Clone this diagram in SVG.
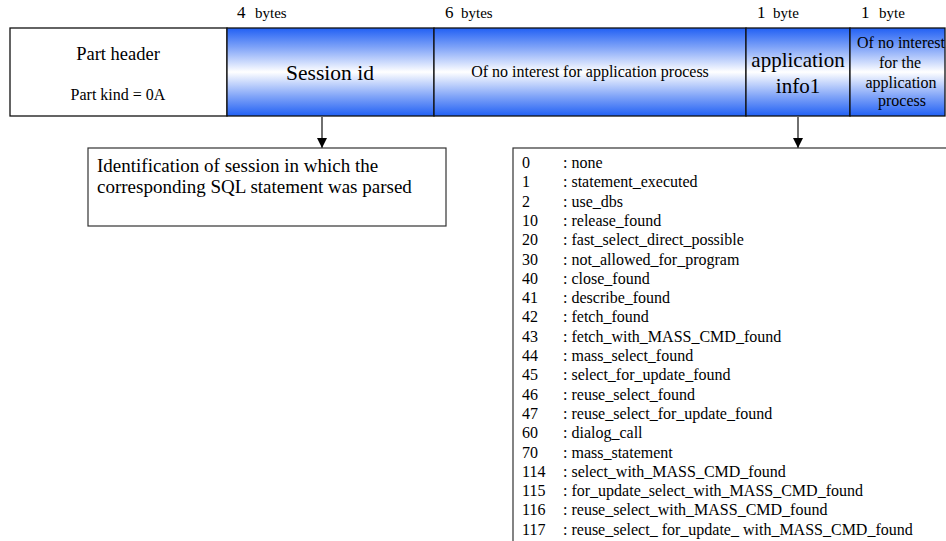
<svg xmlns="http://www.w3.org/2000/svg" width="946" height="541" viewBox="0 0 946 541" font-family="'Liberation Serif', 'DejaVu Serif', serif">
  <defs>
    <linearGradient id="band" x1="0" y1="0" x2="0" y2="1">
      <stop offset="0" stop-color="#2160f4"/>
      <stop offset="0.22" stop-color="#7fa3f8"/>
      <stop offset="0.5" stop-color="#ffffff"/>
      <stop offset="0.78" stop-color="#7fa3f8"/>
      <stop offset="1" stop-color="#2160f4"/>
    </linearGradient>
    <marker id="arrow" viewBox="0 0 10 10" refX="10" refY="5" markerWidth="10" markerHeight="10" markerUnits="userSpaceOnUse" orient="auto">
      <path d="M0,0 L10,5 L0,10 z" fill="#000"/>
    </marker>
  </defs>
  <style>
    text { fill: #000; }
    .cell { stroke: #111; stroke-width: 1.3; }
    .plain { fill: #fff; }
    .blue { fill: url(#band); }
    .sz16 { font-size: 16px; }
    .mid { text-anchor: middle; }
    .num { font-size: 17px; }
    .unit { font-size: 15px; }
    .conn { stroke: #222; stroke-width: 1.3; fill: none; marker-end: url(#arrow); }
    .note { fill: #fff; stroke: #333; stroke-width: 1.2; }
  </style>
  <rect width="946" height="541" fill="#fff"/>

  <!-- byte-size labels above the fields -->
  <g id="sizes">
    <text class="num" x="237" y="18">4</text><text class="unit" x="255" y="18">bytes</text>
    <text class="num" x="445" y="18">6</text><text class="unit" x="461" y="18">bytes</text>
    <text class="num" x="757" y="18">1</text><text class="unit" x="773" y="18">byte</text>
    <text class="num" x="861" y="18">1</text><text class="unit" x="879" y="18">byte</text>
  </g>

  <!-- record fields -->
  <g id="part-header">
    <rect class="cell plain" x="10" y="28" width="217" height="88"/>
    <text class="mid" font-size="18.5" x="118" y="60">Part header</text>
    <text class="sz16 mid" x="118" y="99.5">Part kind = 0A</text>
  </g>
  <g id="session-id">
    <rect class="cell blue" x="227" y="28" width="207" height="88"/>
    <text class="mid" font-size="21.5" x="330" y="80">Session id</text>
  </g>
  <g id="no-interest-6">
    <rect class="cell blue" x="434" y="28" width="312" height="88"/>
    <text class="sz16 mid" x="590" y="77">Of no interest for application process</text>
  </g>
  <g id="application-info1">
    <rect class="cell blue" x="746" y="28" width="104" height="88"/>
    <text class="mid" font-size="21" x="798" y="67">application</text>
    <text class="mid" font-size="21" x="798" y="93">info1</text>
  </g>
  <g id="no-interest-1">
    <rect class="cell blue" x="850" y="28" width="95" height="88"/>
    <text class="sz16 mid" x="901" y="48">Of no interest</text>
    <text class="sz16 mid" x="900" y="68">for the</text>
    <text class="sz16 mid" x="901" y="88">application</text>
    <text class="sz16 mid" x="902" y="106">process</text>
  </g>

  <!-- connectors -->
  <g id="connectors">
    <line class="conn" x1="322" y1="117" x2="322" y2="148"/>
    <line class="conn" x1="798" y1="117" x2="798" y2="148"/>
  </g>

  <!-- session id description -->
  <g id="session-note">
    <rect class="note" x="88" y="148" width="358" height="78"/>
    <text font-size="19" x="97" y="172">Identification of session in which the</text>
    <text font-size="19" x="97" y="193">corresponding SQL statement was parsed</text>
  </g>

  <!-- application info1 value list -->
  <g id="info-values" class="sz16">
    <rect class="note" x="513" y="148" width="440" height="400"/>
    <g>
      <text x="522" y="168">0</text><text x="563" y="168">: none</text>
      <text x="522" y="187.3">1</text><text x="563" y="187.3">: statement_executed</text>
      <text x="522" y="206.6">2</text><text x="563" y="206.6">: use_dbs</text>
      <text x="522" y="225.9">10</text><text x="563" y="225.9">: release_found</text>
      <text x="522" y="245.2">20</text><text x="563" y="245.2">: fast_select_direct_possible</text>
      <text x="522" y="264.5">30</text><text x="563" y="264.5">: not_allowed_for_program</text>
      <text x="522" y="283.8">40</text><text x="563" y="283.8">: close_found</text>
      <text x="522" y="303.1">41</text><text x="563" y="303.1">: describe_found</text>
      <text x="522" y="322.4">42</text><text x="563" y="322.4">: fetch_found</text>
      <text x="522" y="341.7">43</text><text x="563" y="341.7">: fetch_with_MASS_CMD_found</text>
      <text x="522" y="361">44</text><text x="563" y="361">: mass_select_found</text>
      <text x="522" y="380.3">45</text><text x="563" y="380.3">: select_for_update_found</text>
      <text x="522" y="399.6">46</text><text x="563" y="399.6">: reuse_select_found</text>
      <text x="522" y="418.9">47</text><text x="563" y="418.9">: reuse_select_for_update_found</text>
      <text x="522" y="438.2">60</text><text x="563" y="438.2">: dialog_call</text>
      <text x="522" y="457.5">70</text><text x="563" y="457.5">: mass_statement</text>
      <text x="522" y="476.8">114</text><text x="563" y="476.8">: select_with_MASS_CMD_found</text>
      <text x="522" y="496.1">115</text><text x="563" y="496.1">: for_update_select_with_MASS_CMD_found</text>
      <text x="522" y="515.4">116</text><text x="563" y="515.4">: reuse_select_with_MASS_CMD_found</text>
      <text x="522" y="534.7">117</text><text x="563" y="534.7">: reuse_select_ for_update_ with_MASS_CMD_found</text>
    </g>
  </g>
</svg>
